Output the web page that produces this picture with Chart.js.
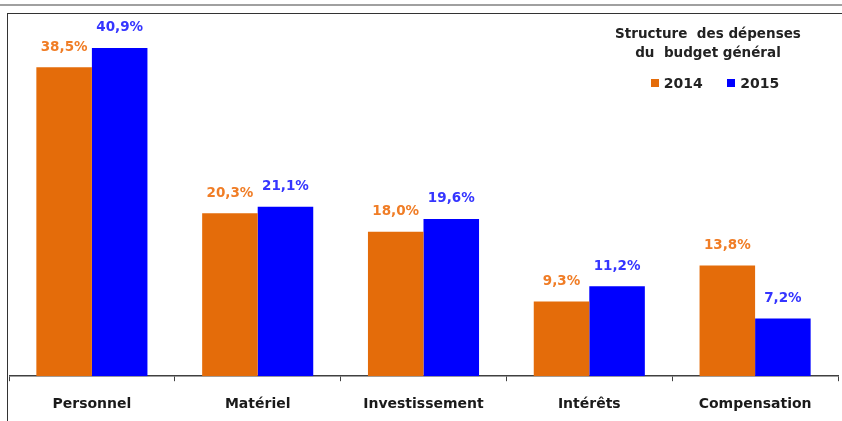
<!DOCTYPE html>
<html>
<head>
<meta charset="utf-8">
<script src="https://cdn.jsdelivr.net/npm/chart.js@4"></script>
<style>
  body { margin: 0; background: #fff; width: 842px; height: 421px; overflow: hidden; position: relative; font-family: "DejaVu Sans", sans-serif; }
  .topline { position: absolute; left: 0; top: 4px; width: 842px; height: 2px; background: #a0a0a0; }
  .box { position: absolute; left: 7px; top: 13px; width: 835px; height: 408px; border-left: 1.5px solid #333; border-top: 1.5px solid #333; }
  .canvas-wrap { position: absolute; left: 9px; top: 15px; width: 833px; height: 413px; }
  .legende { position: absolute; left: 600px; top: 24px; width: 216px; text-align: center; font-weight: 700; font-size: 13.5px; color: #222; line-height: 19px; }
  .items { margin-top: 12px; font-size: 14px; padding-left: 14px; }
  .sq { display: inline-block; width: 8px; height: 8px; margin-right: 5px; vertical-align: 1px; }
</style>
</head>
<body>
<div class="topline"></div>
<div class="box"></div>
<div class="canvas-wrap"><canvas id="depenses-chart"></canvas></div>
<div class="legende">
  <div>Structure&nbsp; des dépenses</div>
  <div>du&nbsp; budget général</div>
  <div class="items"><span class="sq" style="background:#e46c0a"></span>2014&nbsp;&nbsp;&nbsp;&nbsp;&nbsp;<span class="sq" style="background:#0000ff"></span>2015</div>
</div>
<script>
// Données
const categories = ['Personnel', 'Matériel', 'Investissement', 'Intérêts', 'Compensation'];
const valeurs2014 = [38.5, 20.3, 18.0, 9.3, 13.8];
const valeurs2015 = [40.9, 21.1, 19.6, 11.2, 7.2];

const couleurBarres = ['#e46c0a', '#0000ff'];
const couleurTextes = ['#f07d26', '#3535ff'];

// Étiquettes de valeur au-dessus des barres
const etiquettesPlugin = {
    id: 'etiquettes',
    afterDatasetsDraw(chart) {
        const ctx = chart.ctx;
        ctx.save();
        ctx.font = 'bold 13.5px "DejaVu Sans", sans-serif';
        ctx.textAlign = 'center';
        ctx.textBaseline = 'middle';
        chart.data.datasets.forEach((ds, i) => {
            const meta = chart.getDatasetMeta(i);
            ctx.fillStyle = couleurTextes[i];
            meta.data.forEach((bar, j) => {
                const txt = ds.data[j].toFixed(1).replace('.', ',') + '%';
                ctx.fillText(txt, bar.x, bar.y - 20);
            });
        });
        ctx.restore();
    }
};

const ctx = document.getElementById('depenses-chart').getContext('2d');
new Chart(ctx, {
    type: 'bar',
    data: {
        labels: categories,
        datasets: [{
            label: '2014',
            data: valeurs2014,
            backgroundColor: couleurBarres[0]
        }, {
            label: '2015',
            data: valeurs2015,
            backgroundColor: couleurBarres[1]
        }]
    },
    options: {
        responsive: true,
        maintainAspectRatio: false,
        animation: false,
        layout: { padding: { left: 0, right: 4, top: 0, bottom: 0 } },
        datasets: {
            bar: { categoryPercentage: 0.67, barPercentage: 1.0 }
        },
        plugins: {
            legend: { display: false },
            tooltip: { enabled: false }
        },
        scales: {
            x: {
                grid: {
                    offset: true,
                    drawOnChartArea: false,
                    tickLength: 5,
                    color: '#404040'
                },
                border: { color: '#404040', width: 1.5 },
                ticks: {
                    color: '#1a1a1a',
                    padding: 15,
                    font: { family: '"DejaVu Sans", sans-serif', size: 14, weight: 'bold' }
                }
            },
            y: {
                display: false,
                min: 0,
                max: 45
            }
        }
    },
    plugins: [etiquettesPlugin]
});
</script>
</body>
</html>
